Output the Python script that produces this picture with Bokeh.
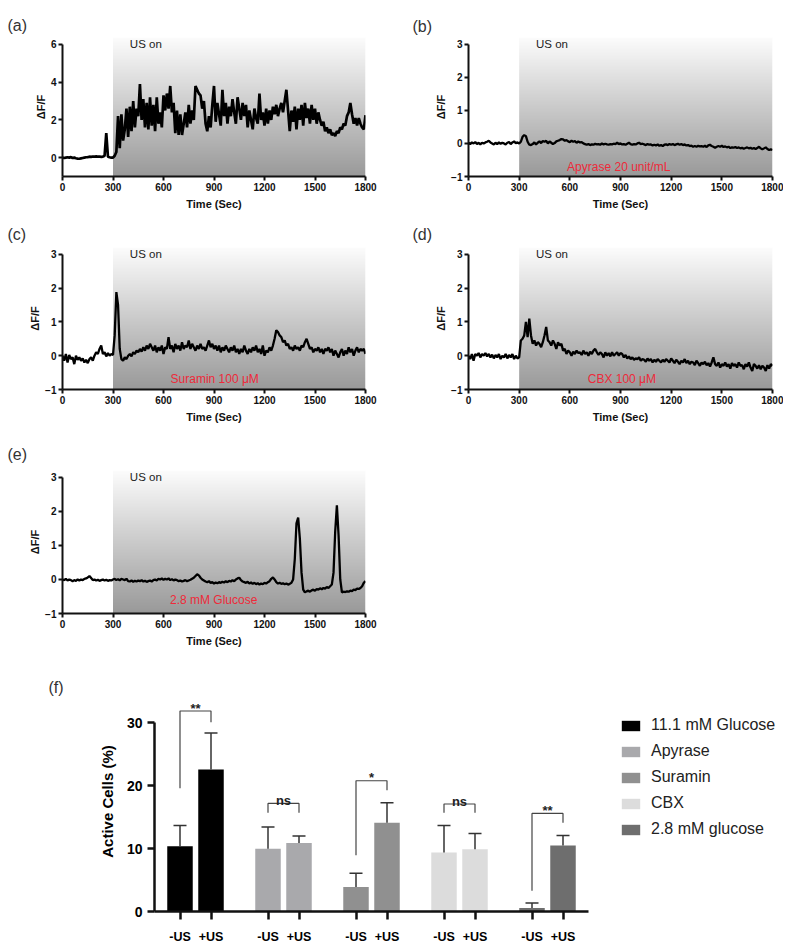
import numpy as np
from bokeh.plotting import figure
from bokeh.layouts import column, row
from bokeh.models import FixedTicker, Label, Spacer
from bokeh.core.properties import value
from bokeh.embed import file_html
from bokeh.resources import INLINE

FONT = "Liberation Sans"
TIME_TICKS = [0, 300, 600, 900, 1200, 1500, 1800]
US_ON = 300
T_END = 1800

# ---- traces, sampled every 10 s from 0 to 1800 s (dF/F) ----
trace_a = [
    0.0, -0.02, 0.0, 0.02, 0.0, 0.03, -0.02, 0.0, -0.03, -0.05,
    -0.06, -0.04, -0.02, 0.0, 0.02, 0.03, 0.05, 0.04, 0.06, 0.05,
    0.07, 0.05, 0.06, 0.04, 0.05, 0.1, 1.3, 0.05, 0.02, 0.0,
    0.0, 0.1, 0.3, 2.2, 0.5, 2.3, 0.9, 1.5, 2.6, 1.1,
    2.7, 1.4, 3.0, 1.6, 2.6, 2.2, 3.9, 2.0, 3.1, 1.6,
    2.9, 1.5, 3.2, 1.7, 2.8, 1.4, 3.2, 1.8, 2.4, 1.6,
    3.3, 2.5, 3.4, 2.6, 3.8, 2.4, 2.9, 1.3, 2.5, 1.2,
    2.3, 1.2, 1.8, 2.4, 1.6, 2.8, 1.8, 2.5, 2.0, 3.8,
    3.6, 3.4, 3.3, 2.6, 3.0, 1.8, 1.4, 2.2, 1.6, 2.8,
    3.8, 1.9, 2.9, 2.3, 1.7, 3.6, 2.2, 2.9, 1.8, 2.7,
    2.2, 3.1, 2.4, 1.8, 3.2, 2.6, 2.0, 2.9, 2.2, 2.8,
    1.6, 2.5, 2.0, 1.5, 2.6, 2.1, 1.8, 3.4, 2.0, 2.4,
    1.7, 2.6, 1.8, 2.5, 2.0, 2.7, 2.3, 2.8, 2.2, 2.6,
    2.9, 2.4, 3.0, 3.6, 2.5, 1.4, 2.5, 1.9, 2.7, 1.5,
    2.6, 2.0, 2.8, 1.7, 2.9, 2.1, 2.6, 1.8, 2.8, 2.0,
    2.6, 1.8, 2.4, 2.0, 1.7, 1.9, 1.4, 1.6, 1.3, 1.5,
    1.2, 1.3, 1.15, 1.4, 1.3, 1.6, 1.5, 1.8, 1.7, 2.2,
    2.4, 2.9, 2.3, 1.8, 2.1, 1.7, 2.1, 1.8, 1.6, 1.5,
    2.25,
]
trace_b = [
    0.02, -0.02, 0.03, 0.0, 0.04, -0.02, 0.02, -0.03, 0.02, 0.0,
    0.03, 0.05, 0.08, 0.03, 0.0, -0.03, 0.02, -0.02, 0.03, -0.01,
    0.02, 0.0, -0.03, 0.02, 0.04, -0.02, 0.03, 0.06, 0.01, 0.03,
    0.0, 0.05, 0.2, 0.25, 0.22, 0.05, -0.04, -0.05, -0.02, 0.03,
    -0.03, 0.02, 0.06, 0.01, 0.07, 0.05, 0.08, 0.0, 0.06, 0.02,
    -0.02, 0.01, 0.06, 0.08, 0.1, 0.13, 0.12, 0.08, 0.1, 0.06,
    0.04, 0.08, 0.05, 0.07, 0.02, 0.06, 0.03, 0.04, 0.0, -0.02,
    -0.04, -0.02, -0.05, -0.03, -0.04, -0.01, -0.03, -0.02, -0.04, 0.0,
    -0.03, -0.01, -0.03, -0.04, -0.02, -0.03, -0.01, -0.02, 0.02, -0.02,
    0.0, -0.03, -0.02, -0.04, -0.01, 0.02, -0.02, -0.04, -0.02, -0.03,
    0.0, 0.02, -0.02, -0.01, -0.03, -0.05, -0.02, -0.04, -0.03, -0.06,
    -0.04, -0.06, -0.03, -0.07, -0.05, -0.08, -0.04, -0.03, -0.05, -0.02,
    -0.04, -0.02, -0.05, -0.03, -0.01, -0.04, -0.02, -0.05, -0.03, -0.06,
    -0.05, -0.08, -0.07, -0.1, -0.08, -0.1, -0.07, -0.09, -0.08, -0.1,
    -0.07, -0.11, -0.06, -0.04, -0.08, -0.1, -0.13, -0.1, -0.08, -0.1,
    -0.07, -0.11, -0.09, -0.12, -0.1, -0.14, -0.12, -0.13, -0.11, -0.14,
    -0.12, -0.15, -0.13, -0.16, -0.14, -0.12, -0.15, -0.13, -0.16, -0.14,
    -0.17, -0.14, -0.1, -0.15, -0.18, -0.15, -0.12, -0.17, -0.2, -0.18,
    -0.2,
]
trace_c = [
    0.0, -0.15, 0.05, -0.2, 0.02, -0.1, -0.05, -0.25, 0.0, -0.12,
    -0.05, -0.15, -0.08, -0.2, -0.12, -0.22, -0.1, -0.05, -0.15, 0.0,
    0.1, 0.05, 0.2, 0.3, 0.05, 0.1, -0.02, 0.08, 0.0, 0.05,
    0.02, 0.6, 1.88, 1.5, 0.2, -0.1, -0.15, -0.05, -0.1, 0.0,
    0.05, -0.02, 0.1, 0.05, 0.15, 0.1, 0.2, 0.12, 0.25, 0.15,
    0.3, 0.2, 0.35, 0.25, 0.15, 0.3, 0.1, 0.25, 0.15, 0.3,
    0.05, 0.25, 0.2, 0.55, 0.2, 0.3, 0.1, 0.35, 0.2, 0.3,
    0.15, 0.4, 0.2, 0.3, 0.25, 0.45, 0.2, 0.35, 0.25, 0.15,
    0.3, 0.2, 0.35, 0.2, 0.25, 0.15, 0.3, 0.45, 0.25, 0.35,
    0.2, 0.3, 0.15, 0.3, 0.1, 0.25, 0.15, 0.3, 0.2, 0.1,
    0.25, 0.15, 0.3, 0.1, 0.2, 0.05, 0.2, 0.1, 0.3, 0.15,
    0.05, 0.2, 0.1, 0.25, 0.15, 0.3, 0.1, 0.2, 0.05, 0.3,
    0.0, 0.15, 0.1, 0.25, 0.15, 0.3, 0.5, 0.75, 0.7, 0.6,
    0.55, 0.4, 0.45, 0.3, 0.35, 0.2, 0.25, 0.15, 0.3, 0.2,
    0.25, 0.15, 0.3, 0.25, 0.4, 0.5, 0.35, 0.2, 0.25, 0.1,
    0.2, 0.15, 0.25, 0.1, 0.2, 0.05, 0.2, 0.15, 0.25, 0.1,
    0.2, 0.0, 0.15, 0.05, -0.05, 0.1, 0.2, 0.0, 0.15, 0.05,
    0.25, 0.1, 0.2, 0.0, 0.15, 0.25, 0.1, 0.2, 0.15, 0.2,
    0.05,
]
trace_d = [
    0.0, -0.1, 0.05, -0.15, 0.05, 0.0, 0.08, -0.05, 0.05, 0.0,
    0.08, -0.02, 0.05, -0.05, 0.03, -0.08, 0.02, -0.05, 0.05, -0.1,
    0.0, -0.05, 0.05, -0.08, 0.02, -0.05, 0.05, -0.1, 0.0, -0.08,
    -0.05, 0.45, 0.5, 0.6, 1.0, 0.55, 1.1, 0.6, 0.35, 0.45,
    0.3, 0.4, 0.35, 0.25, 0.4, 0.6, 0.85, 0.45, 0.4, 0.3,
    0.45, 0.35, 0.2, 0.4, 0.3, 0.35, 0.15, 0.2, 0.05, 0.15,
    0.1, 0.0, 0.12, 0.05, 0.15, 0.08, 0.1, 0.02, 0.15, 0.05,
    0.1, 0.0, 0.12, 0.05, 0.15, 0.2, 0.1, 0.02, 0.1, 0.05,
    -0.05, 0.1, 0.0, 0.08, -0.02, 0.1, 0.0, 0.05, 0.1, 0.0,
    0.08, 0.05, -0.05, 0.02, -0.08, -0.02, -0.1, -0.05, -0.12, -0.08,
    -0.1, -0.05, -0.15, -0.1, -0.12, -0.18, -0.08, -0.15, -0.1, -0.2,
    -0.12, -0.18, -0.1, -0.15, -0.2, -0.12, -0.18, -0.1, -0.15, -0.2,
    -0.08, -0.15, -0.22, -0.12, -0.18, -0.25, -0.15, -0.2, -0.1, -0.22,
    -0.15, -0.25, -0.18, -0.2, -0.28, -0.15, -0.22, -0.3, -0.2, -0.25,
    -0.18, -0.28, -0.22, -0.32, -0.2, -0.05, -0.25, -0.3, -0.2, -0.35,
    -0.25, -0.3, -0.2, -0.32, -0.25, -0.38, -0.22, -0.3, -0.25, -0.35,
    -0.2, -0.3, -0.28, -0.4, -0.25, -0.32, -0.2, -0.35, -0.45, -0.25,
    -0.3, -0.38, -0.28, -0.4, -0.3, -0.35, -0.45, -0.28, -0.38, -0.25,
    -0.3,
]
trace_e = [
    0.0, -0.02, 0.02, -0.03, 0.0, -0.02, -0.05, -0.02, -0.04, 0.0,
    -0.03, 0.0, -0.02, 0.02, 0.03, 0.06, 0.1, 0.04, -0.02, 0.0,
    -0.03, -0.01, -0.04, -0.02, 0.0, -0.03, -0.01, -0.04, -0.02, -0.03,
    0.0, 0.02, -0.02, 0.01, -0.03, 0.02, 0.0, -0.02, 0.02, -0.05,
    -0.06, -0.03, -0.07, -0.04, -0.06, -0.03, -0.05, -0.02, -0.06, -0.04,
    -0.07, -0.05, -0.03, -0.06, -0.02, 0.0, -0.03, 0.02, 0.0, 0.03,
    -0.01, 0.02, 0.0, 0.03, -0.02, 0.01, -0.03, 0.0, -0.02, -0.05,
    -0.03, -0.06, -0.04, -0.02, -0.05, -0.03, -0.01, 0.02, 0.05, 0.1,
    0.15, 0.12, 0.05, 0.0, -0.03, -0.06, -0.08, -0.05, -0.1, -0.08,
    -0.12, -0.09, -0.11, -0.08, -0.1, -0.07, -0.09, -0.05, -0.08, -0.04,
    -0.06, -0.02, -0.05, 0.0, 0.03, 0.05, -0.02, -0.06, -0.08, -0.1,
    -0.07, -0.12, -0.09, -0.13, -0.1, -0.14, -0.11, -0.15, -0.12, -0.14,
    -0.1, -0.12, -0.08, -0.05, 0.02, 0.06, 0.0, -0.08, -0.12, -0.1,
    -0.13, -0.11, -0.14, -0.12, -0.15, -0.13, -0.1, 0.0, 0.6, 1.65,
    1.82, 1.2, 0.2, -0.3, -0.38, -0.35, -0.33, -0.36, -0.32, -0.3,
    -0.33, -0.28, -0.3, -0.26, -0.29, -0.25, -0.27, -0.22, -0.25, -0.2,
    -0.15, 0.2, 1.4, 2.18, 1.3, 0.0, -0.38, -0.36, -0.37, -0.35,
    -0.36, -0.33, -0.34, -0.3, -0.31, -0.27, -0.28, -0.25, -0.2, -0.1,
    -0.05,
]

# ---- bar chart (f) ----
groups = ["11.1 mM Glucose", "Apyrase", "Suramin", "CBX", "2.8 mM glucose"]
group_colors = ["#000000", "#a9a9ac", "#909090", "#dcdcdc", "#6e6e6e"]
minus_us = [10.4, 10.0, 3.9, 9.4, 0.55]
plus_us = [22.6, 10.9, 14.1, 9.9, 10.5]
minus_sd = [3.3, 3.45, 2.2, 4.3, 0.8]
plus_sd = [5.8, 1.1, 3.2, 2.5, 1.6]
sig_text = ["**", "ns", "*", "ns", "**"]
bracket_top = [31.9, 17.2, 20.8, 17.1, 15.6]
bracket_left_end = [19.6, 15.7, 8.95, 15.7, 3.3]
bracket_right_end = [30.1, 15.7, 19.3, 15.7, 14.1]
cond_labels = ["-US", "+US"]
active_ticks = [0, 10, 20, 30]


def gradient_image(n=240, lo=153, hi=252):
    levels = np.linspace(lo, hi, n).round().astype(np.uint8)
    img = np.zeros((n, 2), dtype=np.uint32)
    v = img.view(dtype=np.uint8).reshape((n, 2, 4))
    for k in range(3):
        v[:, :, k] = levels[:, None]
    v[:, :, 3] = 255
    return img


def style_axis(ax, size="10px"):
    ax.axis_line_width = 2
    ax.axis_line_color = "#111111"
    ax.major_tick_line_width = 2
    ax.major_tick_line_color = "#111111"
    ax.major_tick_in = 0
    ax.minor_tick_line_color = None
    ax.major_label_text_font = FONT
    ax.major_label_text_font_style = "bold"
    ax.major_label_text_font_size = size
    ax.major_label_text_color = "#111111"
    ax.axis_label_text_font = FONT
    ax.axis_label_text_font_style = "bold"
    ax.axis_label_text_color = "#111111"


def set_tag(p, tag, dx, standoff):
    p.title.text = tag
    p.title.align = "left"
    p.title.offset = dx
    p.title.standoff = standoff
    p.title.text_font = FONT
    p.title.text_font_style = "normal"
    p.title.text_font_size = "16px"
    p.title.text_color = "#333333"


def trace_panel(vals, tag, yticks, ytop, width, height, bl, br, bt, bb,
                tag_dx, tag_standoff, drug=None, drug_xy=None, lw=2.3):
    p = figure(width=width, height=height, x_range=(0, T_END), y_range=(-1, ytop),
               output_backend="svg", toolbar_location=None,
               min_border_left=bl, min_border_right=br,
               min_border_top=bt, min_border_bottom=bb)
    p.outline_line_color = None
    p.grid.visible = False
    p.background_fill_color = "white"
    p.border_fill_color = "white"
    p.image_rgba(image=[gradient_image()], x=US_ON, y=-1, dw=T_END - US_ON, dh=ytop + 1)
    t = np.linspace(0, T_END, len(vals))
    p.line(t, vals, line_color="black", line_width=lw)

    style_axis(p.xaxis[0])
    style_axis(p.yaxis[0])
    p.xaxis.ticker = FixedTicker(ticks=TIME_TICKS)
    p.xaxis.bounds = (0, T_END)
    p.xaxis.major_tick_out = 4
    p.xaxis.major_label_standoff = 2
    p.xaxis.axis_label = "Time (Sec)"
    p.xaxis.axis_label_text_font_size = "11px"
    p.xaxis.axis_label_standoff = 4
    p.yaxis.ticker = FixedTicker(ticks=yticks)
    p.yaxis.bounds = (-1, yticks[-1])
    p.yaxis.major_tick_out = 4
    p.yaxis.major_label_standoff = 2
    p.yaxis.axis_label = "\u0394F/F"
    p.yaxis.axis_label_text_font_size = "11px"
    p.yaxis.axis_label_standoff = 1

    set_tag(p, tag, tag_dx, tag_standoff)
    p.add_layout(Label(x=400, y=yticks[-1], text="US on", text_font=FONT,
                       text_font_size="11.5px", text_color="#222222",
                       text_align="left", text_baseline="middle"))
    if drug:
        p.add_layout(Label(x=drug_xy[0], y=drug_xy[1], text=drug, text_font=FONT,
                           text_font_size="12px", text_color="#ee2a3a",
                           text_align="center", text_baseline="middle"))
    return p


pa = trace_panel(trace_a, "(a)", [0, 2, 4, 6], 6.37, 395, 218, 62, 30, 37, 41, -55, 8, lw=2.7)
pb = trace_panel(trace_b, "(b)", [-1, 0, 1, 2, 3], 3.2, 388, 218, 73, 11, 34, 42, -56, 5,
                 "Apyrase 20 unit/mL", (890, -0.71))
pc = trace_panel(trace_c, "(c)", [-1, 0, 1, 2, 3], 3.2, 395, 215, 62, 30, 29, 44, -55, 10,
                 "Suramin 100 \u03bcM", (904, -0.69))
pd = trace_panel(trace_d, "(d)", [-1, 0, 1, 2, 3], 3.2, 388, 215, 73, 11, 29, 44, -56, 10,
                 "CBX 100 \u03bcM", (908, -0.69))
pe = trace_panel(trace_e, "(e)", [-1, 0, 1, 2, 3], 3.2, 395, 217, 62, 30, 37, 37, -55, 16,
                 "2.8 mM Glucose", (898, -0.59))

# ---- panel (f) ----
GROUP_STEP = 88
HALF_GAP = 15.5
BAR_W = 25.5
X_START = -41
AXIS_END = 393
FW, FH, FBL, FBT, FBB = 783, 299, 154, 41, 38
X_END = X_START + (FW - FBL)

pf = figure(width=FW, height=FH, x_range=(X_START, X_END), y_range=(0, 35),
            output_backend="svg", toolbar_location=None,
            min_border_left=FBL, min_border_right=0, min_border_top=FBT, min_border_bottom=FBB)
pf.outline_line_color = None
pf.grid.visible = False

tick_pos = []
tick_lab = {}
for g, name in enumerate(groups):
    xm = g * GROUP_STEP - HALF_GAP
    xp = g * GROUP_STEP + HALF_GAP
    tick_pos += [xm, xp]
    tick_lab[xm] = cond_labels[0]
    tick_lab[xp] = cond_labels[1]
    means = [minus_us[g], plus_us[g]]
    sds = [minus_sd[g], plus_sd[g]]
    pf.vbar(x=[xm, xp], top=means, width=BAR_W, fill_color=group_colors[g],
            line_color=None, legend_label=name)
    tops = [m + s for m, s in zip(means, sds)]
    pf.segment(x0=[xm, xp], y0=means, x1=[xm, xp], y1=tops, line_color="#333333", line_width=1.5)
    pf.segment(x0=[xm - 6.5, xp - 6.5], y0=tops, x1=[xm + 6.5, xp + 6.5], y1=tops,
               line_color="#333333", line_width=1.5)
    pf.line(x=[xm, xm, xp, xp],
            y=[bracket_left_end[g], bracket_top[g], bracket_top[g], bracket_right_end[g]],
            line_color="#444444", line_width=1.2)
    pf.text(x=[g * GROUP_STEP], y=[bracket_top[g] + 0.45], text=[sig_text[g]],
            text_align="center", text_baseline="alphabetic", text_font=value(FONT),
            text_font_style="bold", text_font_size="13px", text_color="#222222")

style_axis(pf.xaxis[0], "12.5px")
style_axis(pf.yaxis[0], "14px")
pf.xaxis.ticker = FixedTicker(ticks=tick_pos)
pf.xaxis.major_label_overrides = tick_lab
pf.xaxis.bounds = (X_START, AXIS_END)
pf.xaxis.axis_line_width = 2.5
pf.xaxis.major_tick_line_width = 2.5
pf.xaxis.major_tick_out = 8
pf.xaxis.major_label_standoff = 10
pf.xaxis.major_label_text_color = "#000000"
pf.yaxis.ticker = FixedTicker(ticks=active_ticks)
pf.yaxis.bounds = (0, 30)
pf.yaxis.axis_line_width = 2.5
pf.yaxis.major_tick_line_width = 2.5
pf.yaxis.major_tick_out = 7
pf.yaxis.major_label_standoff = 5
pf.yaxis.major_label_text_color = "#000000"
pf.yaxis.axis_label = "Active Cells (%)"
pf.yaxis.axis_label_text_font_size = "15px"
pf.yaxis.axis_label_text_color = "#000000"
pf.yaxis.axis_label_standoff = 8

set_tag(pf, "(f)", -106, -8)

lg = pf.legend[0]
lg.location = (465, 73)
lg.margin = 0
lg.padding = 0
lg.border_line_color = None
lg.background_fill_alpha = 0
lg.glyph_width = 23
lg.glyph_height = 13
lg.label_standoff = 9
lg.spacing = 8
lg.label_text_font = FONT
lg.label_text_font_size = "16px"
lg.label_text_color = "#222222"

layout = column(row(pa, pb), row(pc, pd), row(pe, Spacer(width=388, height=217)), pf)
open("out.html", "w").write(file_html(layout, INLINE))
